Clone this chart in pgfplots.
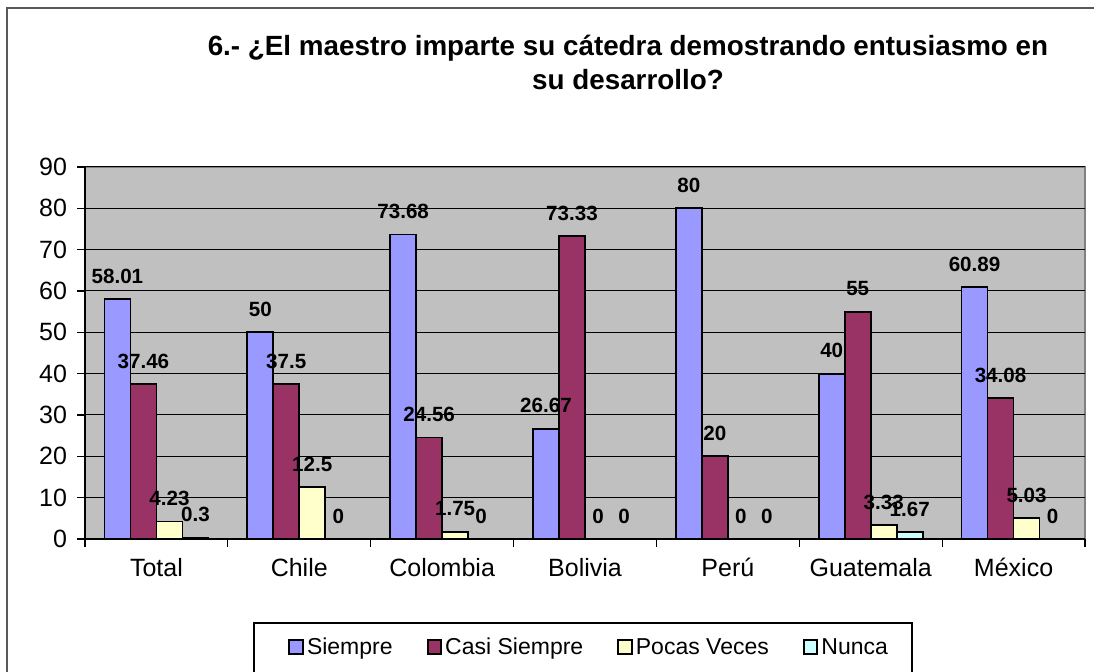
\documentclass[border=0pt]{standalone}
\usepackage{pgfplots}
\usepackage{pgfplotstable}
\pgfplotsset{compat=1.18}
\usepackage{fontspec}
\setmainfont{Liberation Sans}
\definecolor{cS}{HTML}{9999FF}
\definecolor{cC}{HTML}{993366}
\definecolor{cP}{HTML}{FFFFCC}
\definecolor{cN}{HTML}{CCFFFF}
\definecolor{bgc}{HTML}{C0C0C0}
\pgfplotstableread{
x S C P N
0 58.01 37.46 4.23 0.3
1 50 37.5 12.5 0
2 73.68 24.56 1.75 0
3 26.67 73.33 0 0
4 80 20 0 0
5 40 55 3.33 1.67
6 60.89 34.08 5.03 0
}\datatable
\pgfplotsset{sq legend/.style={legend image code/.code={\draw[##1,line width=1pt] (0pt,-2.6pt) rectangle (6.8pt,4.2pt);}}}
\begin{document}
\begin{tikzpicture}[x=1pt,y=1pt]
\useasboundingbox (0,0) rectangle (547,336);
\draw[gray!70!black, line width=0.7pt] (3.5,-20) rectangle (600,332);
\node[font=\bfseries\fontsize{13.9}{17}\selectfont, align=center] at (314,305) {6.- ¿El maestro imparte su cátedra demostrando entusiasmo en\\su desarrollo?};
\draw[black, line width=0.6pt] (127,-20) rectangle (456,24.5);
\begin{axis}[
  at={(42.5pt,66.5pt)}, anchor=south west,
  scale only axis, width=500pt, height=186pt,
  ybar=0pt, bar width=13pt,
  enlargelimits=false,
  xmin=-0.5, xmax=6.5, ymin=0, ymax=90,
  ytick={0,10,...,90},
  xtick={-0.5,0.5,1.5,2.5,3.5,4.5,5.5,6.5},
  x tick label as interval=true,
  xticklabels={Total,Chile,Colombia,Bolivia,Perú,Guatemala,México},
  axis lines*=left,
  axis line style={black, line width=0.6pt},
  axis background/.style={fill=bgc, draw=gray, line width=0.7pt},
  ymajorgrids=true, xmajorgrids=false,
  major grid style={black, line width=0.5pt},
  tick align=outside, major tick length=4pt,
  tick style={black, line width=0.6pt},
  /pgf/number format/assume math mode=true,
  ticklabel style={font=\fontsize{12.5}{14}\selectfont},
  yticklabel style={xshift=-1.5pt},
  xticklabel style={yshift=-2pt},
  nodes near coords,
  every node near coord/.append style={font=\bfseries\fontsize{10.3}{11}\selectfont, anchor=south, yshift=4pt, text=black},
  legend style={draw=none, fill=none, inner sep=0pt, at={(0.203,-0.294)}, anchor=west,
    legend columns=4, font=\fontsize{11.5}{13}\selectfont,
    nodes={inner xsep=1.5pt, text height=8.3pt, text depth=2.4pt},
    /tikz/every odd column/.append style={column sep=0pt},
    /tikz/every even column/.append style={column sep=15.5pt}},
]
\addplot[draw=black, line width=0.9pt, fill=cS, sq legend] table[x=x,y=S] {\datatable};
\addplot[draw=black, line width=0.9pt, fill=cC, sq legend] table[x=x,y=C] {\datatable};
\addplot[draw=black, line width=0.9pt, fill=cP, sq legend] table[x=x,y=P] {\datatable};
\addplot[draw=black, line width=0.9pt, fill=cN, sq legend] table[x=x,y=N] {\datatable};
\legend{Siempre,Casi Siempre,Pocas Veces,Nunca}
\end{axis}
\end{tikzpicture}
\end{document}
